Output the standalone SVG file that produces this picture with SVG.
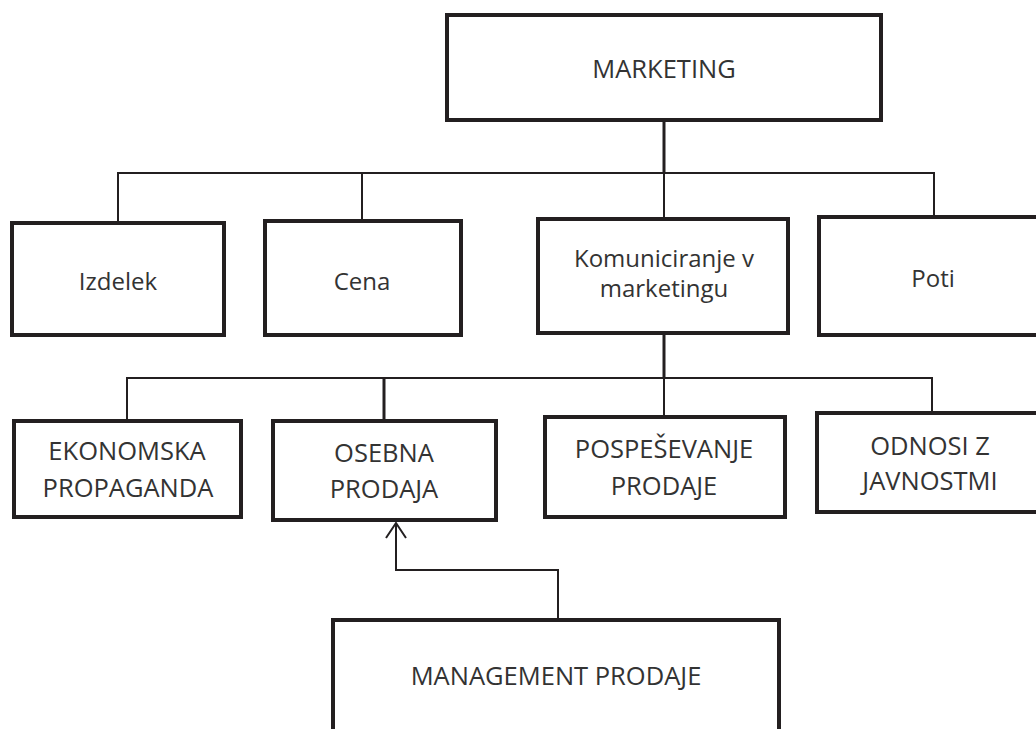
<svg xmlns="http://www.w3.org/2000/svg" width="1036" height="729" viewBox="0 0 1036 729">
<defs>
<style>
.box{fill:#fff;stroke:#231f20;stroke-width:4}
.ln{fill:none;stroke:#231f20;stroke-width:2}
.t{font-family:"Open Sans","Liberation Sans",sans-serif;font-size:24px;fill:#333;text-anchor:middle}
.c{font-size:25.5px}
</style>
<marker id="arr" viewBox="0 0 20 22" refX="17" refY="11" markerWidth="20" markerHeight="22" markerUnits="userSpaceOnUse" orient="auto">
<path d="M2,1 L17,11 L2,21" fill="none" stroke="#231f20" stroke-width="2"/>
</marker>
</defs>
<rect width="1036" height="729" fill="#fff"/>
<g id="connectors">
<path class="ln" d="M664,120 V173" style="stroke-width:3"/>
<path class="ln" d="M118,222 V173 H934 V217"/>
<path class="ln" d="M362,173 V221"/>
<path class="ln" d="M664,173 V219"/>
<path class="ln" d="M664,333 V378" style="stroke-width:3"/>
<path class="ln" d="M127,421 V378 H932 V413"/>
<path class="ln" d="M384,378 V421" style="stroke-width:3"/>
<path class="ln" d="M664,378 V417"/>
<path class="ln" d="M558,620 V570 H396 V523" marker-end="url(#arr)"/>
</g>
<g id="marketing">
<rect class="box" x="447" y="15" width="434" height="105"/>
<text class="t c" x="664" y="78">MARKETING</text>
</g>
<g id="izdelek">
<rect class="box" x="12" y="223" width="212" height="112"/>
<text class="t" x="118" y="290">Izdelek</text>
</g>
<g id="cena">
<rect class="box" x="265" y="221" width="196" height="114"/>
<text class="t" x="362" y="290">Cena</text>
</g>
<g id="komuniciranje">
<rect class="box" x="538" y="219" width="250" height="114"/>
<text class="t" x="664" y="267">Komuniciranje v</text>
<text class="t" x="664" y="297">marketingu</text>
</g>
<g id="poti">
<rect class="box" x="819" y="217" width="240" height="118"/>
<text class="t" x="933" y="287">Poti</text>
</g>
<g id="ekonomska">
<rect class="box" x="14" y="421" width="227" height="96"/>
<text class="t c" x="127" y="460">EKONOMSKA</text>
<text class="t c" x="128" y="497">PROPAGANDA</text>
</g>
<g id="osebna">
<rect class="box" x="273" y="421" width="223" height="99"/>
<text class="t c" x="384" y="462">OSEBNA</text>
<text class="t c" x="384" y="498">PRODAJA</text>
</g>
<g id="pospesevanje">
<rect class="box" x="545" y="417" width="240" height="100"/>
<text class="t c" x="664" y="458">POSPEŠEVANJE</text>
<text class="t c" x="664" y="495">PRODAJE</text>
</g>
<g id="odnosi">
<rect class="box" x="817" y="413" width="240" height="99"/>
<text class="t c" x="930" y="455">ODNOSI Z</text>
<text class="t c" x="930" y="490">JAVNOSTMI</text>
</g>
<g id="management">
<rect class="box" x="333" y="620" width="446" height="140"/>
<text class="t c" x="556" y="685">MANAGEMENT PRODAJE</text>
</g>
</svg>
